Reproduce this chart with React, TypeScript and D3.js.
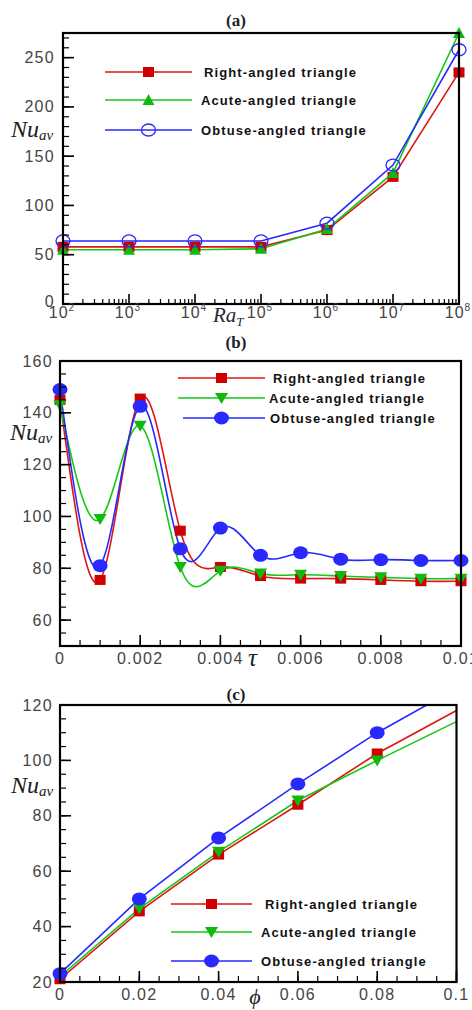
import React from 'react';
import * as d3 from 'd3';

// ---------- data ----------
const RA_T = [1e2, 1e3, 1e4, 1e5, 1e6, 1e7, 1e8];
const RA_EXP = ['2', '3', '4', '5', '6', '7', '8'];
const A_RIGHT = [58, 58, 58, 58, 75, 129, 235];
const A_ACUTE = [55, 55, 55, 56, 76, 133, 275];
const A_OBTUSE = [64, 64, 64, 64, 82, 141, 258];

const TAU = [0, 0.001, 0.002, 0.003, 0.004, 0.005, 0.006, 0.007, 0.008, 0.009, 0.01];
const B_RIGHT = [145, 75.5, 145.5, 94.5, 80.5, 77, 76, 76, 75.5, 75, 75];
const B_ACUTE = [143, 99, 135, 80.5, 79, 78, 77.5, 77, 76.5, 76, 76];
const B_OBTUSE = [149, 81, 142.5, 87.5, 95.5, 85, 86, 83.5, 83.3, 83, 83];
const TAU_TICKS = [0, 0.002, 0.004, 0.006, 0.008, 0.01];
const TAU_LABELS = ['0', '0.002', '0.004', '0.006', '0.008', '0.01'];

const PHI = [0, 0.02, 0.04, 0.06, 0.08, 0.1];
const C_RIGHT = [21, 45.5, 66, 84, 102.5, 118];
const C_ACUTE = [22, 46.5, 67, 85.5, 100, 114];
const C_OBTUSE = [23, 50, 72, 91.5, 110, 126];
const C_MARKED = 5; // markers shown on the first five points
const PHI_TICKS = [0, 0.02, 0.04, 0.06, 0.08, 0.1];
const PHI_LABELS = ['0', '0.02', '0.04', '0.06', '0.08', '0.1'];

const NAMES = ['Right-angled triangle', 'Acute-angled triangle', 'Obtuse-angled triangle'];

const RED = '#e01414';
const RED_M = '#d00000';
const GREEN = '#14c814';
const GREEN_M = '#10b810';
const BLUE = '#2828ff';

const TICK_FONT = 'Liberation Sans, Arial, sans-serif';
const SERIF = 'Liberation Serif, Times New Roman, serif';

type MType = 'square' | 'triUp' | 'triDown' | 'circleOpen' | 'circleFilled';

function Marker({ type, x, y }: { type: MType; x: number; y: number }) {
  if (type === 'square') return <rect x={x - 5.5} y={y - 5} width={11} height={10} fill={RED_M} />;
  if (type === 'triUp')
    return <path d={`M${x - 6},${y + 5}L${x + 6},${y + 5}L${x},${y - 6}Z`} fill={GREEN_M} />;
  if (type === 'triDown')
    return <path d={`M${x - 6.5},${y - 5}L${x + 6.5},${y - 5}L${x},${y + 6}Z`} fill={GREEN_M} />;
  if (type === 'circleOpen')
    return <ellipse cx={x} cy={y} rx={7} ry={6} fill="none" stroke={BLUE} strokeWidth={1.3} />;
  return <ellipse cx={x} cy={y} rx={7.5} ry={6.5} fill={BLUE} />;
}

function NuLabel({ x, y }: { x: number; y: number }) {
  return (
    <text x={x} y={y} fontFamily={SERIF} fontStyle="italic" fontSize={24} fill="#222">
      Nu
      <tspan fontSize={15} dy={3}>av</tspan>
    </text>
  );
}

function Legend({ x1, x2, tx, ys, markers, colors }: { x1: number[]; x2: number; tx: number[]; ys: number[]; markers: MType[]; colors: string[] }) {
  return (
    <g>
      {ys.map((y, i) => (
        <g key={i}>
          <line x1={x1[i]} x2={x2} y1={y} y2={y} stroke={colors[i]} strokeWidth={1.6} />
          <Marker type={markers[i]} x={(x1[0] + x2) / 2} y={y} />
          <text x={tx[i]} y={y + 5} fontFamily={TICK_FONT} fontWeight="bold" fontSize={13} letterSpacing={1.1} fill="#111">
            {NAMES[i]}
          </text>
        </g>
      ))}
    </g>
  );
}

function YAxis({ scale, x, majors, minors, labelX, firstDy = 0 }: { scale: d3.ScaleLinear<number, number>; x: number; majors: number[]; minors: number[]; labelX: number; firstDy?: number }) {
  return (
    <g>
      {minors.map((v, i) => (
        <line key={'m' + i} x1={x} x2={x + 6} y1={scale(v)} y2={scale(v)} stroke="#000" strokeWidth={1.2} />
      ))}
      {majors.map((v, i) => (
        <g key={'M' + i}>
          <line x1={x} x2={x + 11} y1={scale(v)} y2={scale(v)} stroke="#000" strokeWidth={1.6} />
          <text x={labelX} y={scale(v) + 5.5 + (i === 0 ? firstDy : 0)} textAnchor="end" fontFamily={TICK_FONT} fontSize={16} letterSpacing={1.3} fill="#444">
            {v}
          </text>
        </g>
      ))}
    </g>
  );
}

function Frame({ l, r, t, b }: { l: number; r: number; t: number; b: number }) {
  return <rect x={l} y={t} width={r - l} height={b - t} fill="none" stroke="#000" strokeWidth={2.2} />;
}

function range(a: number, b: number, step: number) {
  const out: number[] = [];
  for (let v = a; v <= b + step * 1e-6; v += step) out.push(+v.toFixed(6));
  return out;
}

function PanelA() {
  const L = 63, R = 459, T = 33, B = 304;
  const x = d3.scaleLog().domain([1e2, 1e8]).range([L, R]);
  const y = d3.scaleLinear().domain([0, 275]).range([B, T]);
  const line = d3.line<number>().x((_, i) => x(RA_T[i])).y((d) => y(d));
  const series = [
    { v: A_RIGHT, c: RED, m: 'square' as MType },
    { v: A_ACUTE, c: GREEN, m: 'triUp' as MType },
    { v: A_OBTUSE, c: BLUE, m: 'circleOpen' as MType },
  ];
  const minorX: number[] = [];
  for (let e = 2; e < 8; e++) for (let k = 2; k <= 9; k++) minorX.push(k * Math.pow(10, e));
  return (
    <g>
      <text x={236} y={26} textAnchor="middle" fontFamily={SERIF} fontWeight="bold" fontSize={17} fill="#1e1e2a">(a)</text>
      {series.map((s, i) => (
        <path key={i} d={line(s.v) || ''} fill="none" stroke={s.c} strokeWidth={1.6} />
      ))}
      {series.map((s, i) => (
        <g key={i}>{s.v.map((d, j) => <Marker key={j} type={s.m} x={x(RA_T[j])} y={y(d)} />)}</g>
      ))}
      <Frame l={L} r={R} t={T} b={B} />
      <YAxis scale={y} x={L} majors={range(0, 250, 50)} minors={range(0, 270, 10)} labelX={55} firstDy={-3} />
      {minorX.map((v, i) => (
        <line key={i} x1={x(v)} x2={x(v)} y1={B} y2={B - 5} stroke="#000" strokeWidth={1.2} />
      ))}
      {RA_T.map((v, i) => (
        <g key={i}>
          <line x1={x(v)} x2={x(v)} y1={B} y2={B - 10} stroke="#000" strokeWidth={1.6} />
          <text x={x(v) - 1} y={318} textAnchor="middle" fontFamily={TICK_FONT} fontSize={16} letterSpacing={1} fill="#444">
            10<tspan fontSize={10} dy={-7}>{RA_EXP[i]}</tspan>
          </text>
        </g>
      ))}
      <text x={213} y={322} fontFamily={SERIF} fontStyle="italic" fontSize={21} fill="#2a2a3a">
        Ra<tspan fontSize={13} dy={4}>T</tspan>
      </text>
      <NuLabel x={11} y={137} />
      <Legend x1={[105, 105, 105]} x2={192} tx={[204, 201, 201]} ys={[72, 100, 130]} markers={['square', 'triUp', 'circleOpen']} colors={[RED, GREEN, BLUE]} />
    </g>
  );
}

function PanelB() {
  const L = 60, R = 461, T = 361, B = 646;
  const x = d3.scaleLinear().domain([0, 0.01]).range([L, R]);
  const y = d3.scaleLinear().domain([50, 160]).range([B, T]);
  const line = d3.line<number>().x((_, i) => x(TAU[i])).y((d) => y(d)).curve(d3.curveNatural);
  const series = [
    { v: B_RIGHT, c: RED, m: 'square' as MType },
    { v: B_ACUTE, c: GREEN, m: 'triDown' as MType },
    { v: B_OBTUSE, c: BLUE, m: 'circleFilled' as MType },
  ];
  return (
    <g>
      <text x={236} y={348} textAnchor="middle" fontFamily={SERIF} fontWeight="bold" fontSize={17} fill="#1e1e2a">(b)</text>
      <defs>
        <clipPath id="clipB"><rect x={L} y={T} width={R - L} height={B - T} /></clipPath>
      </defs>
      <g clipPath="url(#clipB)">
        {series.map((s, i) => (
          <path key={i} d={line(s.v) || ''} fill="none" stroke={s.c} strokeWidth={1.6} />
        ))}
      </g>
      {series.map((s, i) => (
        <g key={i}>{s.v.map((d, j) => <Marker key={j} type={s.m} x={x(TAU[j])} y={y(d)} />)}</g>
      ))}
      <Frame l={L} r={R} t={T} b={B} />
      <YAxis scale={y} x={L} majors={range(60, 160, 20)} minors={range(50, 160, 5)} labelX={53} />
      {range(0, 0.01, 0.0005).map((v, i) => (
        <line key={i} x1={x(v)} x2={x(v)} y1={B} y2={B - 6} stroke="#000" strokeWidth={1.2} />
      ))}
      {TAU_TICKS.map((v, i) => (
        <g key={i}>
          <line x1={x(v)} x2={x(v)} y1={B} y2={B - 11} stroke="#000" strokeWidth={1.6} />
          <text x={x(v)} y={664} textAnchor="middle" fontFamily={TICK_FONT} fontSize={16} letterSpacing={1.3} fill="#444">
            {TAU_LABELS[i]}
          </text>
        </g>
      ))}
      <text x={248} y={666} fontFamily={SERIF} fontStyle="italic" fontSize={25} fill="#222">τ</text>
      <NuLabel x={10} y={440} />
      <Legend x1={[178, 178, 183]} x2={265} tx={[273, 269, 270]} ys={[378, 398, 418]} markers={['square', 'triDown', 'circleFilled']} colors={[RED, GREEN, BLUE]} />
    </g>
  );
}

function PanelC() {
  const L = 60, R = 456.5, T = 705, B = 982;
  const x = d3.scaleLinear().domain([0, 0.1]).range([L, R]);
  const y = d3.scaleLinear().domain([20, 120]).range([B, T]);
  const line = d3.line<number>().x((_, i) => x(PHI[i])).y((d) => y(d));
  const series = [
    { v: C_RIGHT, c: RED, m: 'square' as MType },
    { v: C_ACUTE, c: GREEN, m: 'triDown' as MType },
    { v: C_OBTUSE, c: BLUE, m: 'circleFilled' as MType },
  ];
  return (
    <g>
      <text x={236} y={700} textAnchor="middle" fontFamily={SERIF} fontWeight="bold" fontSize={17} fill="#1e1e2a">(c)</text>
      <defs>
        <clipPath id="clipC"><rect x={L} y={T} width={R - L} height={B - T} /></clipPath>
      </defs>
      <g clipPath="url(#clipC)">
        {series.map((s, i) => (
          <path key={i} d={line(s.v) || ''} fill="none" stroke={s.c} strokeWidth={1.6} />
        ))}
      </g>
      {series.map((s, i) => (
        <g key={i}>{s.v.slice(0, C_MARKED).map((d, j) => <Marker key={j} type={s.m} x={x(PHI[j])} y={y(d)} />)}</g>
      ))}
      <Frame l={L} r={R} t={T} b={B} />
      <YAxis scale={y} x={L} majors={range(20, 120, 20)} minors={range(20, 120, 5)} labelX={53} />
      {range(0, 0.1, 0.005).map((v, i) => (
        <line key={i} x1={x(v)} x2={x(v)} y1={B} y2={B - 6} stroke="#000" strokeWidth={1.2} />
      ))}
      {PHI_TICKS.map((v, i) => (
        <g key={i}>
          <line x1={x(v)} x2={x(v)} y1={B} y2={B - 11} stroke="#000" strokeWidth={1.6} />
          <text x={x(v)} y={1000} textAnchor="middle" fontFamily={TICK_FONT} fontSize={16} letterSpacing={1.3} fill="#444">
            {PHI_LABELS[i]}
          </text>
        </g>
      ))}
      <text x={255} y={1004} textAnchor="middle" fontFamily={SERIF} fontStyle="italic" fontSize={22} fill="#222">ϕ</text>
      <NuLabel x={11} y={793} />
      <Legend x1={[171, 171, 171]} x2={252} tx={[265, 261, 261]} ys={[904, 932, 961]} markers={['square', 'triDown', 'circleFilled']} colors={[RED, GREEN, BLUE]} />
    </g>
  );
}

export default function App() {
  return (
    <svg width={472} height={1010} style={{ position: 'absolute', left: 0, top: 0, background: '#fff' }}>
      <rect x={0} y={0} width={472} height={1010} fill="#fff" />
      <PanelA />
      <PanelB />
      <PanelC />
    </svg>
  );
}
